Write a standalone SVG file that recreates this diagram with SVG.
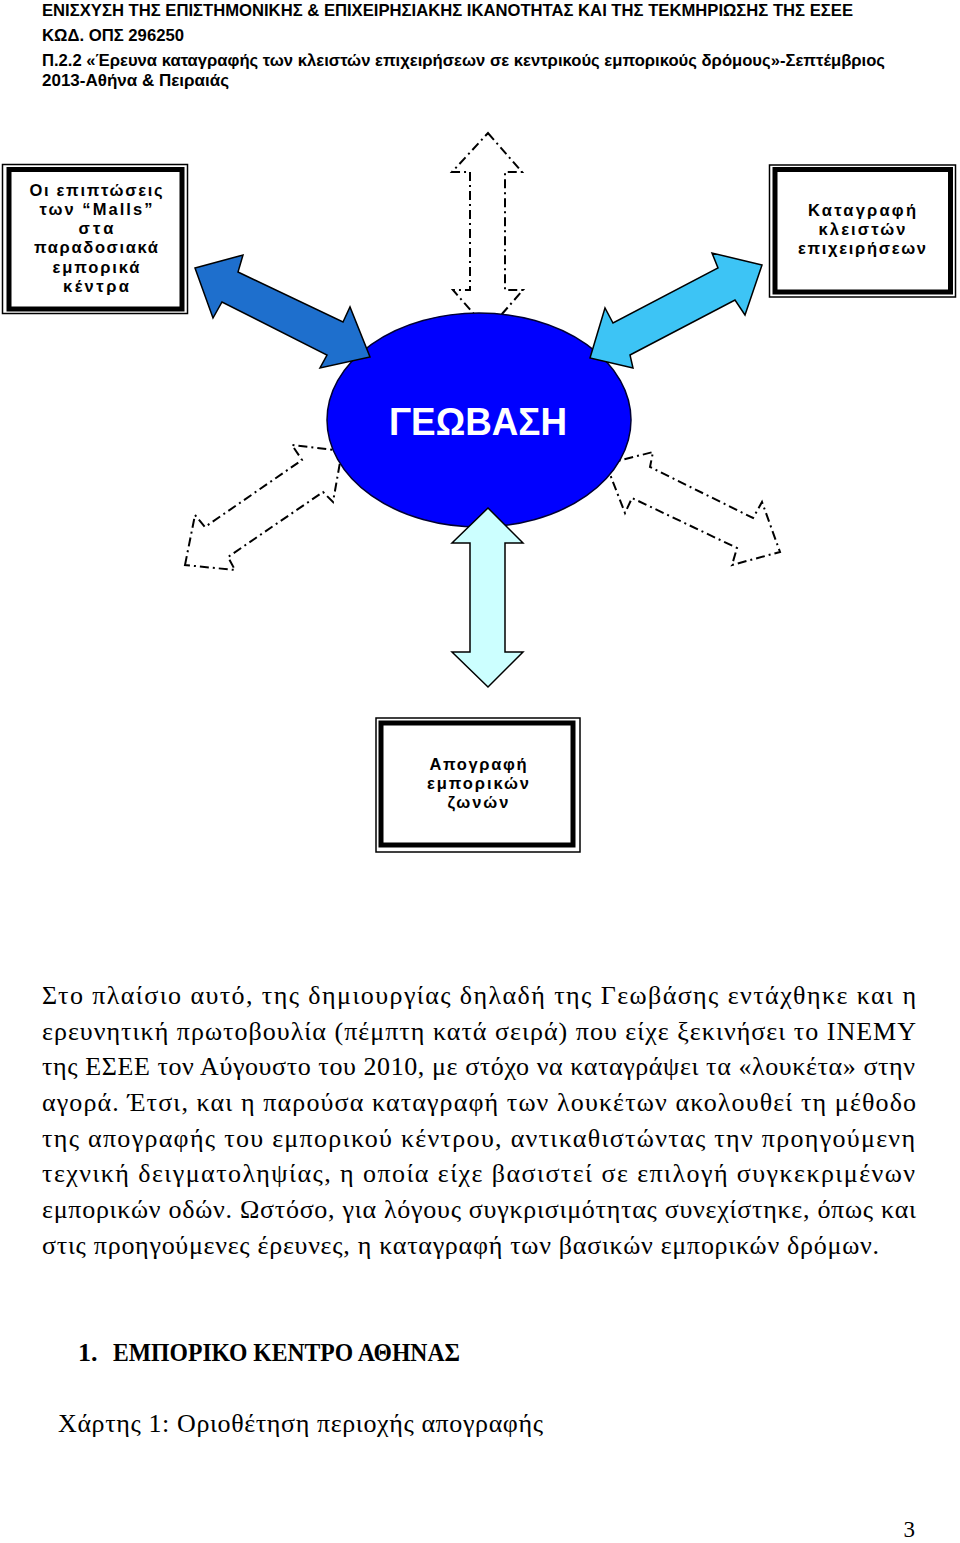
<svg xmlns="http://www.w3.org/2000/svg" width="960" height="1543" viewBox="0 0 960 1543">
<style>
.hdr{font-family:"Liberation Sans",Arial,sans-serif;font-weight:bold;font-size:16.5px;fill:#000}
.thin{fill:none;stroke:#000;stroke-width:1.5}
.thick{fill:#fff;stroke:#000;stroke-width:5}
.bx{font-family:"Liberation Sans",Arial,sans-serif;font-weight:bold;font-size:16.5px;fill:#000;text-anchor:middle}
.dash{fill:none;stroke:#000;stroke-width:2;stroke-dasharray:9 4 2 4}
.solid{stroke:#000;stroke-width:1.5;stroke-linejoin:miter}
.body{font-family:"Liberation Serif","Times New Roman",serif;font-size:26px;fill:#000}
</style>
<rect width="960" height="1543" fill="#fff"/>
<g id="header">
<text class="hdr" x="42" y="16" textLength="811" lengthAdjust="spacingAndGlyphs">ΕΝΙΣΧΥΣΗ ΤΗΣ ΕΠΙΣΤΗΜΟΝΙΚΗΣ &amp; ΕΠΙΧΕΙΡΗΣΙΑΚΗΣ ΙΚΑΝΟΤΗΤΑΣ ΚΑΙ ΤΗΣ ΤΕΚΜΗΡΙΩΣΗΣ ΤΗΣ ΕΣΕΕ</text>
<text class="hdr" x="42" y="41" textLength="142" lengthAdjust="spacingAndGlyphs">ΚΩΔ. ΟΠΣ 296250</text>
<text class="hdr" x="42" y="66" textLength="843" lengthAdjust="spacingAndGlyphs">Π.2.2 «Έρευνα καταγραφής των κλειστών επιχειρήσεων σε κεντρικούς εμπορικούς δρόμους»-Σεπτέμβριος</text>
<text class="hdr" x="42" y="86" textLength="187" lengthAdjust="spacingAndGlyphs">2013-Αθήνα &amp; Πειραιάς</text>
</g>
<g id="connectors">
<polygon class="dash" points="488,133 522,172 505,172 505,290 523,290 488,330 453,290 470,290 470,172 452,172"/>
<polygon class="dash" points="185,565 195,515 205,527 302,460 292,445 342,451 333,502 323,492 228,557 235,570"/>
<polygon class="dash" points="606,464 653,452 650,467 753,518 762,502 780,552 732,565 737,548 632,498 625,513"/>
</g>
<g id="node-geovasi">
<ellipse cx="479" cy="420" rx="152" ry="107" fill="#0000FF" stroke="#000033" stroke-width="1.5"/>
<text x="478" y="435" font-family="Liberation Sans,Arial,sans-serif" font-weight="bold" font-size="38" fill="#fff" text-anchor="middle" textLength="178" lengthAdjust="spacingAndGlyphs">ΓΕΩΒΑΣΗ</text>
</g>
<g id="connectors-solid">
<polygon class="solid" fill="#1E6FCD" points="195,268 243,255 238,272 343,322 350,307 370,357 320,368 327,355 222,302 213,318"/>
<polygon class="solid" fill="#3DC4F5" points="762,265 712,253 718,268 613,323 605,308 590,358 633,368 630,355 735,300 745,315"/>
<polygon class="solid" fill="#CCFFFF" points="488,508 523,543 505,543 505,652 523,652 488,687 452,652 470,652 470,543 452,543"/>
</g>
<g id="node-malls">
<rect class="thin" x="2.5" y="164.5" width="185" height="149"/>
<rect class="thick" x="9" y="169.5" width="173" height="139.5"/>
<text class="bx" x="96" y="196" textLength="133" lengthAdjust="spacing">Οι επιπτώσεις</text>
<text class="bx" x="96" y="215" textLength="113" lengthAdjust="spacing">των “Malls”</text>
<text class="bx" x="96" y="234" textLength="35" lengthAdjust="spacing">στα</text>
<text class="bx" x="96" y="253" textLength="124" lengthAdjust="spacing">παραδοσιακά</text>
<text class="bx" x="96" y="273" textLength="87" lengthAdjust="spacing">εμπορικά</text>
<text class="bx" x="96" y="292" textLength="66" lengthAdjust="spacing">κέντρα</text>
</g>
<g id="node-kleista">
<rect class="thin" x="769.5" y="165" width="186" height="132"/>
<rect class="thick" x="775" y="169.5" width="175.5" height="122.5"/>
<text class="bx" x="862" y="216" textLength="108" lengthAdjust="spacing">Καταγραφή</text>
<text class="bx" x="862" y="235" textLength="87" lengthAdjust="spacing">κλειστών</text>
<text class="bx" x="862" y="254" textLength="128" lengthAdjust="spacing">επιχειρήσεων</text>
</g>
<g id="node-apografi">
<rect class="thin" x="376" y="718" width="204" height="134"/>
<rect class="thick" x="381" y="723" width="192" height="122"/>
<text class="bx" x="478" y="770" textLength="97" lengthAdjust="spacing">Απογραφή</text>
<text class="bx" x="478" y="789" textLength="102" lengthAdjust="spacing">εμπορικών</text>
<text class="bx" x="478" y="808" textLength="61" lengthAdjust="spacing">ζωνών</text>
</g>
<g id="body-text">
<text class="body" x="42" y="1004" textLength="874" lengthAdjust="spacing">Στο πλαίσιο αυτό, της δημιουργίας δηλαδή της Γεωβάσης εντάχθηκε και η</text>
<text class="body" x="42" y="1040" textLength="874" lengthAdjust="spacing">ερευνητική πρωτοβουλία (πέμπτη κατά σειρά) που είχε ξεκινήσει το ΙΝΕΜΥ</text>
<text class="body" x="42" y="1075" textLength="873" lengthAdjust="spacing">της ΕΣΕΕ τον Αύγουστο του 2010, με στόχο να καταγράψει τα «λουκέτα» στην</text>
<text class="body" x="42" y="1111" textLength="874" lengthAdjust="spacing">αγορά.  Έτσι, και η παρούσα καταγραφή των λουκέτων ακολουθεί τη μέθοδο</text>
<text class="body" x="42" y="1147" textLength="873" lengthAdjust="spacing">της απογραφής του εμπορικού κέντρου, αντικαθιστώντας την προηγούμενη</text>
<text class="body" x="42" y="1182" textLength="873" lengthAdjust="spacing">τεχνική δειγματοληψίας, η οποία είχε βασιστεί σε επιλογή συγκεκριμένων</text>
<text class="body" x="42" y="1218" textLength="874" lengthAdjust="spacing">εμπορικών οδών. Ωστόσο, για λόγους συγκρισιμότητας συνεχίστηκε, όπως και</text>
<text class="body" x="42" y="1254" textLength="837" lengthAdjust="spacing">στις προηγούμενες έρευνες, η καταγραφή των βασικών εμπορικών δρόμων.</text>
<text class="body" x="78" y="1361" font-weight="bold">1.</text>
<text class="body" x="113" y="1361" font-weight="bold" textLength="347" lengthAdjust="spacingAndGlyphs">ΕΜΠΟΡΙΚΟ ΚΕΝΤΡΟ ΑΘΗΝΑΣ</text>
<text class="body" x="58" y="1432" textLength="485" lengthAdjust="spacing">Χάρτης 1: Οριοθέτηση περιοχής απογραφής</text>
<text x="915" y="1537" text-anchor="end" font-family="Liberation Serif,serif" font-size="23">3</text>
</g>
</svg>
